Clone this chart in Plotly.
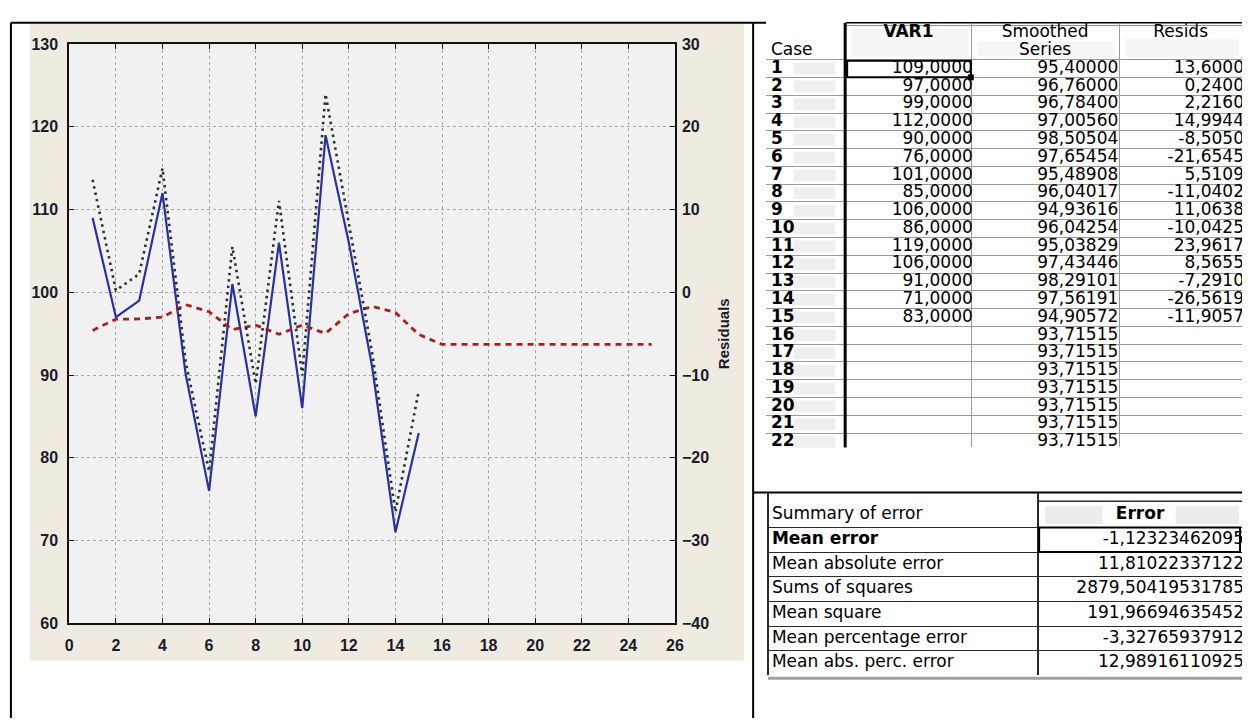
import plotly.graph_objects as go

# ---------------- data ----------------
cases = list(range(1, 23))
case_x = list(range(1, 26))
var1 = [109, 97, 99, 112, 90, 76, 101, 85, 106, 86, 119, 106, 91, 71, 83]
smoothed = [95.40000, 96.76000, 96.78400, 97.00560, 98.50504, 97.65454, 95.48908,
            96.04017, 94.93616, 96.04254, 95.03829, 97.43446, 98.29101, 97.56191,
            94.90572, 93.71515, 93.71515, 93.71515, 93.71515, 93.71515, 93.71515,
            93.71515, 93.71515, 93.71515, 93.71515]
resids = [13.6000, 0.2400, 2.2160, 14.9944, -8.5050, -21.6545, 5.5109, -11.0402,
          11.0638, -10.0425, 23.9617, 8.5655, -7.2910, -26.5619, -11.9057]

table_headers = ["Case", "VAR1", "Smoothed", "Series", "Resids"]
summary_title = "Summary of error"
summary_header = "Error"
summary_labels = ["Mean error", "Mean absolute error", "Sums of squares",
                  "Mean square", "Mean percentage error", "Mean abs. perc. error"]
summary_values = ["-1.12323462095", "11.81022337122", "2879.50419531785",
                  "191.96694635452", "-3.32765937912", "12.98916110925"]

x_ticks = list(range(0, 27, 2))
y_left_ticks = list(range(60, 131, 10))
y_right_ticks = list(range(-40, 31, 10))

# ---------------- helpers ----------------
W, H = 1251, 727
def px(x):
    return x / W
def py(y):
    return 1 - y / H
def comma(v, d):
    return f"{v:.{d}f}".replace(".", ",")

TICKFONT = dict(family="Liberation Sans Narrow, Arial Narrow, Liberation Sans", size=16,
                color="#1a1a2a", weight="bold")
TABFONT = "DejaVu Sans, Verdana, Liberation Sans"
TF17 = dict(family=TABFONT, size=17, color="black")

fig = go.Figure()

# ---------------- chart ----------------
n = len(var1)
fig.add_trace(go.Scatter(x=case_x[:n], y=var1, mode="lines", name="VAR1",
                         line=dict(color="#2b2fa6", width=2.2)))
fig.add_trace(go.Scatter(x=case_x, y=smoothed, mode="lines", name="Smoothed Series",
                         line=dict(color="#a82020", width=2.8, dash="6px,5px")))
fig.add_trace(go.Scatter(x=case_x[:n], y=resids, mode="lines", name="Resids", yaxis="y2",
                         line=dict(color="#2a342a", width=2.6, dash="2.5px,4px")))

# ---------------- case table (text on pixel-unit axes) ----------------
T_TOP, HDR_BOT, ROW_H, T_BOT = 15, 53, 18.2, 450
row_c = [HDR_BOT + (c - 0.5) * ROW_H for c in cases]
row_b = [HDR_BOT + k * ROW_H for k in range(len(cases))]

var1_col = [comma(v, 4) for v in var1]
sm_col = [comma(v, 5) for v in smoothed[:len(cases)]]
res_col = [comma(v, 4) for v in resids]

def txt(x, y, text, pos, ax, font=TF17):
    return go.Scatter(x=x, y=y, text=text, mode="text", textposition=pos,
                      textfont=font, xaxis="x" + ax, yaxis="y" + ax,
                      hoverinfo="skip", cliponaxis=True, showlegend=False)

fig.add_trace(txt([775] * len(cases), row_c, [f"<b>{c}</b>" for c in cases], "middle right", "3"))
fig.add_trace(txt([979] * n, row_c[:n], var1_col, "middle left", "3"))
fig.add_trace(txt([1126] * len(cases), row_c, sm_col, "middle left", "3"))
fig.add_trace(txt([1253] * n, row_c[:n], res_col, "middle left", "3"))
fig.add_trace(txt([775, 914, 1052, 1052, 1189], [44, 25, 25, 44, 25],
                  [table_headers[0], "<b>" + table_headers[1] + "</b>"] + table_headers[2:],
                  ["middle right", "middle center", "middle center", "middle center", "middle center"],
                  "3"))

# ---------------- summary table ----------------
S_TOP, S_HDR_BOT, S_ROW_H = 496, 532, 25.2
s_c = [S_HDR_BOT + (i + 0.5) * S_ROW_H for i in range(len(summary_labels))]
s_b = [S_HDR_BOT + i * S_ROW_H for i in range(len(summary_labels) + 1)]
S_BOT = s_b[-1]

fig.add_trace(txt([776] * len(summary_labels), s_c,
                  ["<b>" + summary_labels[0] + "</b>"] + summary_labels[1:], "middle right", "4"))
fig.add_trace(txt([1253] * len(summary_values), s_c,
                  [v.replace(".", ",") for v in summary_values], "middle left", "4"))
fig.add_trace(txt([776, 1148], [519, 519], [summary_title, "<b>" + summary_header + "</b>"],
                  ["middle right", "middle center"], "4"))

# ---------------- decoration shapes ----------------
def line(x0, y0, x1, y1, color="black", width=2, layer="below"):
    return dict(type="line", xref="paper", yref="paper", x0=px(x0), y0=py(y0),
                x1=px(x1), y1=py(y1), line=dict(color=color, width=width), layer=layer)

def blob(x0, y0, x1, y1, color="#ebebeb"):
    return dict(type="rect", xref="paper", yref="paper", x0=px(x0), x1=px(x1), y0=py(y1), y1=py(y0),
                fillcolor=color, line=dict(width=0), layer="below")

shapes = [
    blob(26, 16, 748, 668, "#efebe1"),
    dict(type="rect", xref="x domain", yref="y domain", x0=0, x1=1, y0=0, y1=1,
         fillcolor="#f1f1f1", line=dict(width=0), layer="below"),
    blob(856, 21, 974, 50, "#f5f5f5"), blob(984, 34, 1122, 50, "#f6f6f6"),
    blob(1133, 32, 1248, 50, "#f5f5f5"),
    blob(1052, 510, 1110, 528, "#ececec"), blob(1184, 510, 1248, 528, "#ececec"),
    line(7, 15, 7, 727), line(7, 15, 770, 15), line(757, 15, 757, 727),
    line(757, 496, 1251, 496),
    line(851, 15, 1251, 15, width=1.5), line(851, 18, 1251, 18, color="#888888", width=1),
    line(850, 15, 850, T_BOT, width=3, layer="above"),
    line(1045, 505, 1251, 505, color="#303030", width=1.5),
    dict(type="rect", xref="paper", yref="paper", x0=px(852), x1=px(977), y0=py(71), y1=py(54),
         line=dict(color="black", width=2), layer="above"),
    dict(type="rect", xref="paper", yref="paper", x0=px(974), x1=px(980), y0=py(74), y1=py(68),
         fillcolor="black", line=dict(width=0), layer="above"),
    dict(type="rect", xref="paper", yref="paper", x0=px(1046), x1=px(1249), y0=py(557), y1=py(532),
         line=dict(color="black", width=2), layer="above"),
    line(772, S_BOT + 3, 1251, S_BOT + 3, color="#a0a0a0", width=3),
]
# light blurred patches beside the case numbers
for yc in row_c:
    shapes.append(blob(798, yc - 6, 840, yc + 6, "#efefef"))

hidden = dict(showticklabels=False, ticks="", zeroline=False, showline=False, fixedrange=True)

fig.update_layout(
    autosize=True,
    margin=dict(l=0, r=0, t=0, b=0),
    paper_bgcolor="white", plot_bgcolor="rgba(0,0,0,0)",
    showlegend=False,
    shapes=shapes,
    xaxis=dict(domain=[px(66), px(678)], range=[0, 26], tickvals=x_ticks,
               showgrid=True, gridcolor="#a8a8a8", griddash="dot", gridwidth=1,
               showline=True, linecolor="#111111", linewidth=2, mirror="ticks",
               ticks="inside", ticklen=5, tickcolor="#111111", tickfont=TICKFONT,
               ticklabelstandoff=7, zeroline=False, fixedrange=True),
    yaxis=dict(domain=[py(630), py(37)], range=[60, 130], tickvals=y_left_ticks,
               showgrid=True, gridcolor="#a8a8a8", griddash="dot", gridwidth=1,
               showline=True, linecolor="#111111", linewidth=2, mirror=True,
               ticks="inside", ticklen=5, tickcolor="#111111", tickfont=TICKFONT,
               ticklabelstandoff=6, zeroline=False, fixedrange=True),
    yaxis2=dict(overlaying="y", side="right", range=[-40, 30], tickvals=y_right_ticks,
                showgrid=False, zeroline=False, showline=False,
                ticks="inside", ticklen=5, tickcolor="#111111", tickfont=TICKFONT,
                ticklabelstandoff=6,
                title=dict(text="Residuals", standoff=10,
                           font=dict(family="Liberation Sans, Arial", size=15,
                                     color="#1a1a2a", weight="bold")),
                fixedrange=True),
    xaxis3=dict(domain=[px(770), 1.0], range=[770, 1251], anchor="y3",
                tickvals=[978, 1127], showgrid=True, gridcolor="#9a9a9a", gridwidth=1, **hidden),
    yaxis3=dict(domain=[py(T_BOT), py(T_TOP)], range=[T_BOT, T_TOP], anchor="x3",
                tickvals=row_b, showgrid=True, gridcolor="#9a9a9a", gridwidth=1, **hidden),
    xaxis4=dict(domain=[px(771), 1.0], range=[771, 1251], anchor="y4",
                tickvals=[772.5, 1045], showgrid=True, gridcolor="#2a2a2a", gridwidth=1.5, **hidden),
    yaxis4=dict(domain=[py(S_BOT), py(S_TOP)], range=[S_BOT, S_TOP], anchor="x4",
                tickvals=s_b, showgrid=True, gridcolor="#2a2a2a", gridwidth=1.2, **hidden),
)

post = ("document.documentElement.style.margin='0';document.body.style.margin='0';"
        "document.documentElement.style.overflow='hidden';document.body.style.overflow='hidden';"
        "var gd=document.getElementById('{plot_id}');gd.style.width='100vw';gd.style.height='100vh';"
        "Plotly.Plots.resize(gd);")
fig.write_html("out.html", config={"displayModeBar": False, "responsive": True},
               default_width="100vw", default_height="100vh", post_script=post)
